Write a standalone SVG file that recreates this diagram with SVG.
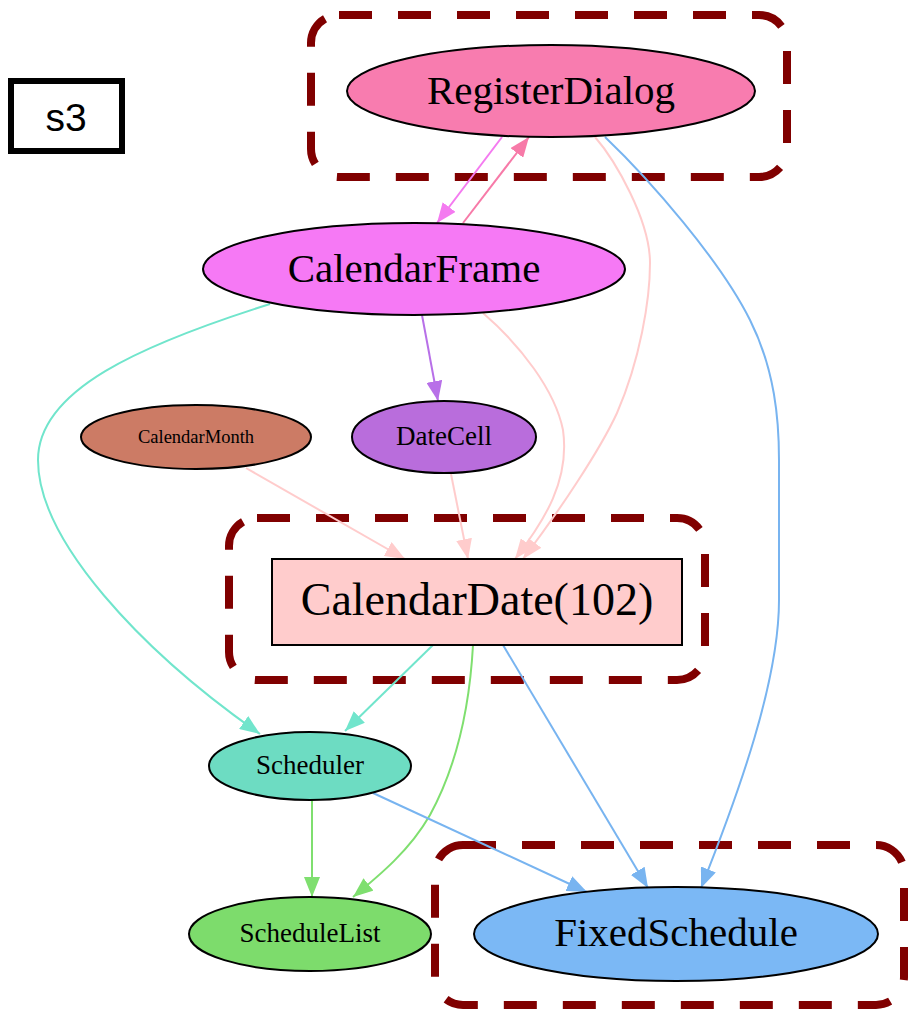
<svg xmlns="http://www.w3.org/2000/svg" width="909" height="1012" viewBox="0 0 909 1012">
  <style>
    .cluster { fill: none; stroke: #800000; stroke-width: 8; stroke-dasharray: 33 26; }
    .node { stroke: #000; stroke-width: 2; }
    .lbl { font-family: "Liberation Serif", "Times New Roman", serif; fill: #000; text-anchor: middle; }
    .edge { fill: none; stroke-width: 2; }
  </style>
  <defs>
    <marker id="ah-pink" markerUnits="userSpaceOnUse" markerWidth="20" markerHeight="16" refX="20" refY="8" orient="auto"><path d="M0,0 L20,8 L0,16 z" fill="#ffcccc"/></marker>
    <marker id="ah-rose" markerUnits="userSpaceOnUse" markerWidth="20" markerHeight="16" refX="20" refY="8" orient="auto"><path d="M0,0 L20,8 L0,16 z" fill="#f77aa8"/></marker>
    <marker id="ah-violet" markerUnits="userSpaceOnUse" markerWidth="20" markerHeight="16" refX="20" refY="8" orient="auto"><path d="M0,0 L20,8 L0,16 z" fill="#f47af0"/></marker>
    <marker id="ah-purple" markerUnits="userSpaceOnUse" markerWidth="20" markerHeight="16" refX="20" refY="8" orient="auto"><path d="M0,0 L20,8 L0,16 z" fill="#b870e8"/></marker>
    <marker id="ah-blue" markerUnits="userSpaceOnUse" markerWidth="20" markerHeight="16" refX="20" refY="8" orient="auto"><path d="M0,0 L20,8 L0,16 z" fill="#78b4f0"/></marker>
    <marker id="ah-teal" markerUnits="userSpaceOnUse" markerWidth="20" markerHeight="16" refX="20" refY="8" orient="auto"><path d="M0,0 L20,8 L0,16 z" fill="#71e5cc"/></marker>
    <marker id="ah-green" markerUnits="userSpaceOnUse" markerWidth="20" markerHeight="16" refX="20" refY="8" orient="auto"><path d="M0,0 L20,8 L0,16 z" fill="#7fdf6f"/></marker>
  </defs>

  <rect width="909" height="1012" fill="#fff"/>

  <!-- legend -->
  <g id="legend">
    <rect x="11" y="81" width="111" height="70" fill="#fff" stroke="#000" stroke-width="6"/>
    <text x="66" y="131" font-family="Liberation Sans, Arial, sans-serif" font-size="39" text-anchor="middle">s3</text>
  </g>

  <!-- clusters -->
  <g id="clusters">
    <rect class="cluster" x="311" y="15" width="476" height="162" rx="28"/>
    <rect class="cluster" x="229" y="518" width="476" height="162" rx="28"/>
    <rect class="cluster" x="435" y="845" width="469" height="160" rx="28"/>
  </g>

  <!-- connectors -->
  <g id="edges">
    <path class="edge" stroke="#f77aa8" marker-end="url(#ah-rose)" d="M463,223 L529,137"/>
    <path class="edge" stroke="#f47af0" marker-end="url(#ah-violet)" d="M502,137 L437,223"/>
    <path class="edge" stroke="#ffcccc" marker-end="url(#ah-pink)" d="M595,137 C615,160 650,220 650,263 C650,300 640,360 617,413 C600,450 560,510 523,559"/>
    <path class="edge" stroke="#78b4f0" marker-end="url(#ah-blue)" d="M605,137 C650,180 720,260 750,320 C775,370 779,420 779,460 L779,600 C779,680 740,790 701,888"/>
    <path class="edge" stroke="#71e5cc" marker-end="url(#ah-teal)" d="M270,304 C140,345 38,390 38,460 C38,540 140,650 260,734"/>
    <path class="edge" stroke="#b870e8" marker-end="url(#ah-purple)" d="M422,315 L438,401"/>
    <path class="edge" stroke="#ffcccc" marker-end="url(#ah-pink)" d="M483,313 C520,345 555,390 563,430 C570,480 545,520 515,559"/>
    <path class="edge" stroke="#ffcccc" marker-end="url(#ah-pink)" d="M246,468 L405,559"/>
    <path class="edge" stroke="#ffcccc" marker-end="url(#ah-pink)" d="M451,474 L468,559"/>
    <path class="edge" stroke="#71e5cc" marker-end="url(#ah-teal)" d="M433,645 L345,731"/>
    <path class="edge" stroke="#7fdf6f" marker-end="url(#ah-green)" d="M473,645 C470,700 460,760 430,815 C410,850 380,875 353,897"/>
    <path class="edge" stroke="#78b4f0" marker-end="url(#ah-blue)" d="M503,645 L648,888"/>
    <path class="edge" stroke="#7fdf6f" marker-end="url(#ah-green)" d="M312,800 L312,897"/>
    <path class="edge" stroke="#78b4f0" marker-end="url(#ah-blue)" d="M373,793 L587,892"/>
  </g>

  <!-- nodes -->
  <g id="RegisterDialog">
    <ellipse class="node" cx="551" cy="91" rx="204" ry="46" fill="#f87caf"/>
    <text class="lbl" x="551" y="104" font-size="41">RegisterDialog</text>
  </g>
  <g id="CalendarFrame">
    <ellipse class="node" cx="414" cy="269" rx="211" ry="46" fill="#f679f5"/>
    <text class="lbl" x="414" y="282" font-size="41">CalendarFrame</text>
  </g>
  <g id="CalendarMonth">
    <ellipse class="node" cx="196" cy="437" rx="115" ry="32" fill="#cc7b65"/>
    <text class="lbl" x="196" y="443" font-size="18.5">CalendarMonth</text>
  </g>
  <g id="DateCell">
    <ellipse class="node" cx="444" cy="437" rx="92" ry="36" fill="#b96ddc"/>
    <text class="lbl" x="444" y="445" font-size="27">DateCell</text>
  </g>
  <g id="CalendarDate">
    <rect class="node" x="272" y="559" width="410" height="86" fill="#ffcccc"/>
    <text class="lbl" x="477" y="615" font-size="46">CalendarDate(102)</text>
  </g>
  <g id="Scheduler">
    <ellipse class="node" cx="310" cy="766" rx="101" ry="34" fill="#6ddcc2"/>
    <text class="lbl" x="310" y="774" font-size="27">Scheduler</text>
  </g>
  <g id="ScheduleList">
    <ellipse class="node" cx="310" cy="934" rx="121" ry="37" fill="#7ddc6c"/>
    <text class="lbl" x="310" y="942" font-size="27">ScheduleList</text>
  </g>
  <g id="FixedSchedule">
    <ellipse class="node" cx="676" cy="934" rx="202" ry="47" fill="#7bb8f5"/>
    <text class="lbl" x="676" y="946" font-size="41">FixedSchedule</text>
  </g>
</svg>
